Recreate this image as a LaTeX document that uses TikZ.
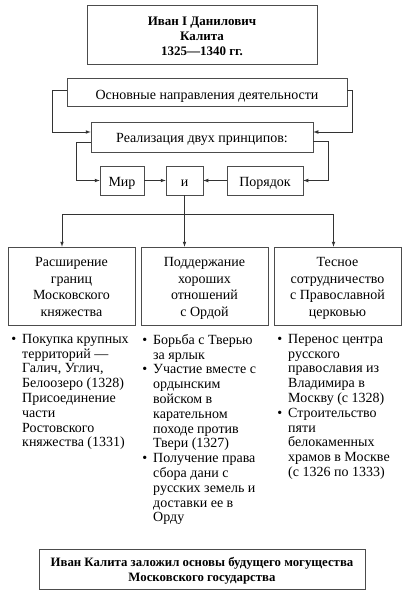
\documentclass[tikz,border=0pt]{standalone}
\usepackage{fontspec}
\setmainfont{Liberation Serif}
\usetikzlibrary{positioning}
\tikzset{box/.style={draw=black!70,line width=0.7pt,rectangle,inner sep=0pt,align=center},
  list/.style={align=left,inner sep=0pt,anchor=north west},
  arr/.style={->,>=latex,line width=0.7pt,draw=black!80}}

\begin{document}
\begin{tikzpicture}[x=1pt,y=-1pt,font=\fontsize{14}{14.8}\selectfont]
      \useasboundingbox (0,0) rectangle (406,602);
      \node[box,minimum width=230,minimum height=59,text height=44pt,text depth=1pt,font=\bfseries\fontsize{13}{15}\selectfont] (ivan) at (202,34.5) {Иван I Данилович\\Калита\\1325—1340 гг.};
      \node[box,minimum width=280,minimum height=28,text height=15pt,text depth=1pt] (osn) at (207,92) {Основные направления деятельности};
      \node[box,minimum width=222,minimum height=30,text height=12pt,text depth=1pt] (real) at (202,137) {Реализация двух принципов:};
      \node[box,minimum width=44,minimum height=29,text height=13pt,text depth=1pt] (mir) at (122,180.5) {Мир};
      \node[box,minimum width=37,minimum height=29,text height=13pt,text depth=1pt] (i) at (184.5,180.5) {и};
      \node[box,minimum width=76,minimum height=29,text height=13pt,text depth=1pt] (por) at (265,180.5) {Порядок};

      \node[box,minimum width=127,minimum height=78,text height=60pt,text depth=0pt,font=\fontsize{14}{16.5}\selectfont] (ras) at (71.5,286) {Расширение\\границ\\Московского\\княжества};
      \node[box,minimum width=127,minimum height=78,text height=60pt,text depth=0pt,font=\fontsize{14}{16.5}\selectfont] (pod) at (204.5,286) {Поддержание\\хороших\\отношений\\с Ордой};
      \node[box,minimum width=127,minimum height=78,text height=60pt,text depth=0pt,font=\fontsize{14}{16.5}\selectfont] (tes) at (337.5,286) {Тесное\\сотрудничество\\с Православной\\церковью};

      \node[box,minimum width=326,minimum height=40,text height=25pt,text depth=1pt,font=\bfseries\fontsize{12.8}{15}\selectfont] (itog) at (202,569) {Иван Калита заложил основы будущего могущества\\Московского государства};

      \draw[arr] ([yshift=2pt]osn.west) -- ++(-14,0) |- ([yshift=5pt]real.west);
      \draw[arr] ([yshift=2pt]osn.east) -- ++(5,0) |- ([yshift=5pt]real.east);
      \draw[arr] ([yshift=-5pt]real.west) -- ++(-14,0) |- (mir.west);
      \draw[arr] ([yshift=-4pt]real.east) -- ++(15,0) |- (por.east);
      \draw[arr] (mir) -- (i);
      \draw[arr] (por) -- (i);

      \coordinate (split) at (184.5,214);
      \draw[line width=0.7pt,draw=black!80] (i.south) -- (split);
      \draw[arr] (split) -- (split |- pod.north);
      \draw[arr] (split) -| ([xshift=-9.5pt]ras.north);
      \draw[arr] (split) -| ([xshift=-4pt]tes.north);

      % списки
      \node[list] (l1) at (22,334) {\llap{\textbullet\hspace{6pt}}Покупка крупных\\территорий —\\Галич, Углич,\\Белоозеро (1328)\\Присоединение\\части\\Ростовского\\княжества (1331)};
      \node[list] (l2) at (153,334) {\llap{\textbullet\hspace{6pt}}Борьба с Тверью\\за ярлык\\\llap{\textbullet\hspace{6pt}}Участие вместе с\\ордынским\\войском в\\карательном\\походе против\\Твери (1327)\\\llap{\textbullet\hspace{6pt}}Получение права\\сбора дани с\\русских земель и\\доставки ее в\\Орду};
      \node[list] (l3) at (288,334) {\llap{\textbullet\hspace{6pt}}Перенос центра\\русского\\православия из\\Владимира в\\Москву (с 1328)\\\llap{\textbullet\hspace{6pt}}Строительство\\пяти\\белокаменных\\храмов в Москве\\(с 1326 по 1333)};
    \end{tikzpicture}
\end{document}
